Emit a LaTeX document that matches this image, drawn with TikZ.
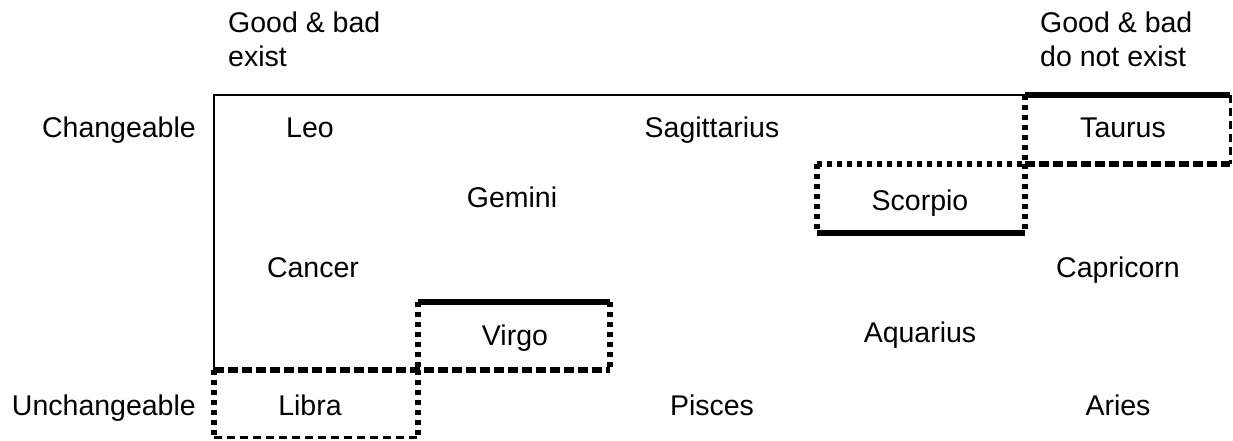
\documentclass[tikz,border=0pt]{standalone}
\usepackage{fontspec}
\setmainfont{Liberation Sans}
\usetikzlibrary{positioning}

\tikzset{
  frame/.style={line width=2.5pt},
  firm/.style={line width=6pt},
  dotline/.style={line width=6pt, dash pattern=on 5pt off 5pt},
  dashline/.style={line width=6pt, dash pattern=on 10pt off 4pt},
  faintline/.style={line width=3pt, dash pattern=on 8pt off 5pt},
  sign/.style={anchor=base, inner sep=0pt},
  axis/.style={anchor=base east, inner sep=0pt},
  head/.style={anchor=north west, align=left, inner sep=0pt}
}

\begin{document}
\begin{tikzpicture}[x=1pt, y=-1pt, font=\fontsize{28.5pt}{34pt}\selectfont]
      \useasboundingbox (0,0) rectangle (1233,441);

      % column and row corners
      \coordinate (a1) at (214,95);   \coordinate (a2) at (214,370);  \coordinate (a3) at (214,437);
      \coordinate (b2) at (418,302);  \coordinate (b3) at (418,370);  \coordinate (b4) at (418,437);
      \coordinate (c2) at (610,302);  \coordinate (c3) at (610,370);
      \coordinate (d1) at (817,164);  \coordinate (d2) at (817,233);
      \coordinate (e1) at (1025,95);  \coordinate (e2) at (1025,164); \coordinate (e3) at (1025,233);
      \coordinate (f1) at (1230,95);  \coordinate (f2) at (1230,164);

      % headings
      \node [head] (exist) at (228,12) {Good \& bad\\exist};
      \node [head] (noexist) at (1040,12) {Good \& bad\\do not exist};
      \node [axis] (change) at (196,138) {Changeable};
      \node [axis] (nochange) at (196,415) {Unchangeable};

      % signs
      \foreach \name/\x/\y in {Leo/310/138, Sagittarius/712/138, Taurus/1123/138,
                               Gemini/512/207, Scorpio/920/210,
                               Cancer/313/277, Capricorn/1118/277,
                               Virgo/515/345, Aquarius/920/342,
                               Libra/310/415, Pisces/712/415, Aries/1118/415} {
        \node [sign] (\name) at (\x,\y) {\name};
      }

      % frame
      \draw [frame] (a2) -- (a1) -- (e1);

      % Taurus
      \draw [firm] (e1) -- (f1);
      \draw [dotline] (e1) -- (e2);
      \draw [faintline] (f1) -- (f2);
      \draw [dashline] (e2) -- (f2);

      % Scorpio
      \draw [dotline] (d1) -- (e2);
      \draw [dotline] (d1) -- (d2);
      \draw [dotline] (e2) -- (e3);
      \draw [firm] (d2) -- (e3);

      % Virgo
      \draw [firm] (b2) -- (c2);
      \draw [dotline] (b2) -- (b3);
      \draw [dotline] (c2) -- (c3);
      \draw [dashline] (a2) -- (c3);

      % Libra
      \draw [dotline] (a2) -- (a3);
      \draw [dotline] (b3) -- (b4);
      \draw [faintline] (a3) -- (b4);
    \end{tikzpicture}
\end{document}
